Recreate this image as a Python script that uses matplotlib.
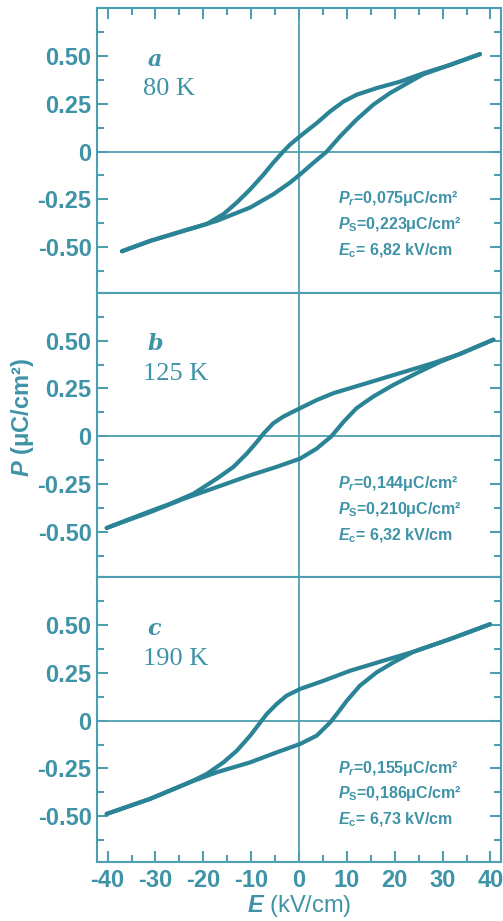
import matplotlib
matplotlib.use('Agg')
from matplotlib import pyplot as plt
from matplotlib.ticker import MultipleLocator

plt.rcParams['font.family'] = ['Liberation Sans', 'DejaVu Sans']
plt.rcParams['font.weight'] = 'bold'
plt.rcParams['axes.unicode_minus'] = False
plt.rcParams['mathtext.fontset'] = 'custom'
plt.rcParams['mathtext.rm'] = 'Liberation Sans:bold'
plt.rcParams['mathtext.it'] = 'Liberation Sans:bold:italic'
plt.rcParams['mathtext.bf'] = 'Liberation Sans:bold'

line_col = '#2b8496'
text_col = '#3f93a7'
axis_col = '#4e9fb1'

# panel a, 80 K (upper branch goes +E -> -E, lower branch -E -> +E)
a_up_E = [37.8, 31.5, 26.0, 21.1, 16.2, 12.0, 9.3, 6.5, 3.7, 0.2, -1.9, -3.3, -5.4, -7.4, -10.2, -13.0, -15.8, -19.3, -24.1, -31.1, -37]
a_up_P = [0.51, 0.453, 0.41, 0.366, 0.332, 0.297, 0.262, 0.21, 0.149, 0.08, 0.036, 0, -0.059, -0.12, -0.198, -0.267, -0.328, -0.38, -0.415, -0.468, -0.522]
a_dn_E = [-37, -31.1, -24.1, -17.2, -10.2, -5.4, -1.9, 0.2, 3.0, 5.8, 8.6, 12.0, 15.5, 19.0, 23.2, 26.0, 31.5, 37.8]
a_dn_P = [-0.522, -0.468, -0.415, -0.363, -0.293, -0.224, -0.163, -0.12, -0.059, 0, 0.08, 0.167, 0.245, 0.306, 0.366, 0.405, 0.453, 0.51]

# panel b, 125 K
b_up_E = [40.6, 33.6, 28.0, 21.1, 14.1, 7.2, 3.7, 0.2, -3.3, -5.4, -7.4, -8.8, -10.9, -13.7, -17.2, -22.1, -26.9, -31.1, -36, -40.2]
b_up_P = [0.505, 0.43, 0.382, 0.33, 0.277, 0.225, 0.189, 0.146, 0.102, 0.067, 0.014, -0.03, -0.091, -0.161, -0.223, -0.302, -0.354, -0.393, -0.44, -0.481]
b_dn_E = [-40.2, -36, -31.1, -24.1, -17.2, -10.2, -4.7, 0.2, 3.7, 6.8, 9.3, 12.0, 15.5, 19.7, 24.6, 29.4, 33.6, 40.6]
b_dn_P = [-0.481, -0.442, -0.398, -0.328, -0.267, -0.205, -0.161, -0.118, -0.065, 0, 0.075, 0.146, 0.207, 0.268, 0.33, 0.388, 0.43, 0.505]

# panel c, 190 K
c_up_E = [39.9, 31.5, 23.9, 17.6, 10.6, 5.1, 0.2, -2.6, -4.7, -6.75, -8.1, -10.2, -13.0, -15.8, -19.3, -22.8, -31.1, -40.2]
c_up_P = [0.505, 0.427, 0.361, 0.314, 0.261, 0.209, 0.166, 0.131, 0.087, 0.035, -0.009, -0.078, -0.157, -0.218, -0.279, -0.322, -0.409, -0.488]
c_dn_E = [-40.2, -31.1, -22.8, -17.2, -10.2, -4.7, 0.2, 3.7, 6.5, 7.9, 10.0, 12.7, 16.2, 19.7, 23.9, 31.5, 39.9]
c_dn_P = [-0.488, -0.409, -0.322, -0.27, -0.218, -0.166, -0.122, -0.078, -0.009, 0.035, 0.105, 0.183, 0.253, 0.305, 0.361, 0.427, 0.505]

letters = ['a', 'b', 'c']
temps = ['80 K', '125 K', '190 K']
params = [
    ['$P_r$=0,075μC/cm²', '$P_\\mathrm{S}$=0,223μC/cm²', '$E_\\mathrm{c}$= 6,82 kV/cm'],
    ['$P_r$=0,144μC/cm²', '$P_\\mathrm{S}$=0,210μC/cm²', '$E_\\mathrm{c}$= 6,32 kV/cm'],
    ['$P_r$=0,155μC/cm²', '$P_\\mathrm{S}$=0,186μC/cm²', '$E_\\mathrm{c}$= 6,73 kV/cm'],
]
yticks = [-0.5, -0.25, 0, 0.25, 0.5]
yticklabels = ['-0.50', '-0.25', '0', '0.25', '0.50']
xticks = [-40, -30, -20, -10, 0, 10, 20, 30, 40]

loops = [(a_up_E, a_up_P, a_dn_E, a_dn_P),
         (b_up_E, b_up_P, b_dn_E, b_dn_P),
         (c_up_E, c_up_P, c_dn_E, c_dn_P)]

fig, axes = plt.subplots(3, 1, figsize=(5.03, 9.21), dpi=100, sharex=True)
fig.subplots_adjust(left=0.193, right=0.997, top=0.991, bottom=0.064, hspace=0)

for i, ax in enumerate(axes):
    ue, up, de, dp = loops[i]
    ax.axhline(0, color=axis_col, lw=1.3, zorder=1)
    ax.axvline(0, color=axis_col, lw=1.3, zorder=1)
    ax.plot(ue, up, color=line_col, lw=3.0, solid_capstyle='round', solid_joinstyle='round', zorder=3)
    ax.plot(de, dp, color=line_col, lw=3.0, solid_capstyle='round', solid_joinstyle='round', zorder=3)
    ax.set_xlim(-42.2, 42.3)
    ax.set_ylim(-0.74, 0.75)
    ax.set_yticks(yticks)
    ax.set_yticklabels(yticklabels)
    ax.yaxis.set_minor_locator(MultipleLocator(0.125))
    ax.xaxis.set_minor_locator(MultipleLocator(5))
    ax.set_xticks(xticks)
    for s in ax.spines.values():
        s.set_color(axis_col)
        s.set_linewidth(1.5)
    ax.tick_params(axis='y', which='both', direction='in', left=True, right=True,
                   colors=axis_col, labelcolor=text_col, labelsize=17, pad=4)
    ax.tick_params(axis='y', which='major', length=8, width=1.5)
    ax.tick_params(axis='y', which='minor', length=5, width=1.5)
    ax.tick_params(axis='x', which='both', direction='in', top=(i == 0), bottom=(i == 2),
                   colors=axis_col, labelcolor=text_col, labelsize=17, pad=5)
    ax.tick_params(axis='x', which='major', length=8, width=1.5)
    ax.tick_params(axis='x', which='minor', length=5, width=1.5)
    ax.text(0.125, 0.82, letters[i], transform=ax.transAxes, ha='left', va='center',
            family='DejaVu Serif', style='italic', weight='bold', fontsize=16, color=text_col)
    ax.text(0.114, 0.715, temps[i], transform=ax.transAxes, ha='left', va='center',
            family='Liberation Serif', weight='normal', fontsize=19, color=text_col)
    for j, s in enumerate(params[i]):
        ax.text(0.595, [0.33, 0.24, 0.148][j], s, transform=ax.transAxes, ha='left', va='center',
                fontsize=11.5, weight='bold', color=text_col)

axes[2].set_xlabel('$E$ (kV/cm)', fontsize=17, color=text_col, labelpad=1)
fig.text(0.045, 0.547, '$P$ (μC/cm²)', rotation=90, ha='center', va='center',
         fontsize=17, color=text_col, weight='bold')

fig.savefig('out.png', dpi=100)
